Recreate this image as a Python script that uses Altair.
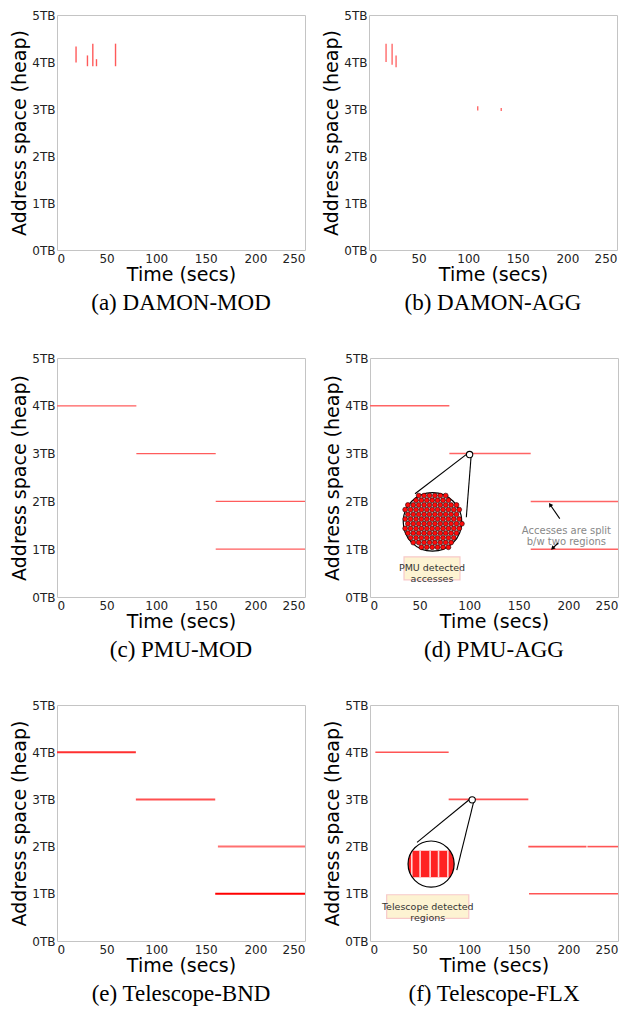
import math
import altair as alt
import pandas as pd

# ---------------- data ----------------
# (a) DAMON-MOD : short vertical access bursts
damon_mod_time = [19.2, 30.7, 36.1, 39.8, 59.0]
damon_mod_lo = [3.99, 3.91, 3.91, 3.91, 3.91]
damon_mod_hi = [4.33, 4.14, 4.39, 4.06, 4.39]

# (b) DAMON-AGG
damon_agg_time = [17.2, 23.3, 27.3, 109.6, 133.3]
damon_agg_lo = [4.00, 3.94, 3.89, 2.97, 2.96]
damon_agg_hi = [4.39, 4.39, 4.14, 3.06, 3.02]

# (c) PMU-MOD : horizontal segments (start, end, address TB)
pmu_mod_start = [0, 80, 160, 160]
pmu_mod_end = [80, 160, 250, 250]
pmu_mod_addr = [4, 3, 2, 1]

# (d) PMU-AGG
pmu_agg_start = [0, 80, 162, 162]
pmu_agg_end = [80, 162, 250, 250]
pmu_agg_addr = [4, 3, 2, 1]

# (e) Telescope-BND
tel_bnd_start = [0, 79.5, 162.2, 159.5]
tel_bnd_end = [79.5, 159.5, 250, 250]
tel_bnd_addr = [4, 3, 2, 1]
tel_bnd_color = ["#ff3030", "#ff5050", "#ff7070", "#ff0000"]

# (f) Telescope-FLX
tel_flx_start = [5.4, 79.3, 159.6, 219.2, 160.3]
tel_flx_end = [79.3, 159.6, 218.2, 250, 250]
tel_flx_addr = [4, 3, 2, 2, 1]

x_ticks = [0, 50, 100, 150, 200, 250]
y_ticks = [0, 1, 2, 3, 4, 5]

captions = ["(a) DAMON-MOD", "(b) DAMON-AGG", "(c) PMU-MOD",
            "(d) PMU-AGG", "(e) Telescope-BND", "(f) Telescope-FLX"]

# annotation anchors (d)
d_zoom_pt = [100.4, 2.98]
d_circle = [63.0, 1.57]
d_tangent_x = [45.4, 97.1]
d_tangent_y = [2.16, 1.67]
d_box = [34.3, 90.7, 0.36, 0.84]
d_note_pos = [198.0, 1.39]
d_arrow_from_x = [191.3, 189.7]
d_arrow_from_y = [1.64, 1.13]
d_arrow_to_x = [181.6, 184.0]
d_arrow_to_y = [1.93, 1.02]
d_arrow_angle = [326, 227]

# annotation anchors (f)
f_zoom_pt = [103.0, 2.99]
f_circle = [61.6, 1.63]
f_tangent_x = [47.4, 87.5]
f_tangent_y = [2.09, 1.50]
f_band = [1.35, 1.91]
f_separators = [42.1, 50.5, 60.6, 69.1, 78.5]
f_box = [16.8, 99.6, 0.48, 0.98]

FONT = "DejaVu Sans"


def X(field, **kw):
    return alt.X(f"{field}:Q", scale=alt.Scale(domain=[0, 250], nice=False, zero=False, padding=0),
                 axis=alt.Axis(values=x_ticks, title="Time (secs)"), **kw)


def Y(field, **kw):
    return alt.Y(f"{field}:Q", scale=alt.Scale(domain=[0, 5], nice=False, zero=False, padding=0),
                 axis=alt.Axis(values=y_ticks, labelExpr="datum.value + 'TB'",
                               title="Address space (heap)"), **kw)


def caption(text):
    return alt.TitleParams(text=text, orient="bottom", font="Liberation Serif",
                           fontSize=23, fontWeight="normal", color="black", offset=8)


def vertical_panel(times, lo, hi, color):
    df = pd.DataFrame({"t": times, "a": lo, "a2": hi})
    return alt.Chart(df).mark_rule(color=color, strokeWidth=1.4).encode(
        x=X("t"), y=Y("a"), y2="a2")


def horizontal_panel(start, end, addr, color, width=1.3, colors=None):
    df = pd.DataFrame({"t": start, "t2": end, "a": addr})
    if colors is not None:
        df["c"] = colors
        return alt.Chart(df).mark_rule(strokeWidth=width).encode(
            x=X("t"), x2="t2", y=Y("a"), color=alt.Color("c:N", scale=None))
    return alt.Chart(df).mark_rule(color=color, strokeWidth=width).encode(
        x=X("t"), x2="t2", y=Y("a"))


def point_layer(xs, ys, size, fill, stroke, sw, opacity=1):
    df = pd.DataFrame({"t": xs, "a": ys})
    return alt.Chart(df).mark_point(shape="circle", size=size, filled=False,
                                    fill=fill, stroke=stroke, strokeWidth=sw,
                                    opacity=opacity, fillOpacity=1).encode(x=X("t"), y=Y("a"))


def line_layer(x1, y1, x2, y2, color="black", width=1.1):
    df = pd.DataFrame({"t": x1, "a": y1, "t2": x2, "a2": y2})
    return alt.Chart(df).mark_rule(color=color, strokeWidth=width).encode(
        x=X("t"), y=Y("a"), x2="t2", y2="a2")


def box_layer(b):
    df = pd.DataFrame({"t": [b[0]], "t2": [b[1]], "a": [b[2]], "a2": [b[3]]})
    return alt.Chart(df).mark_rect(fill="#fdf3d2", stroke="#f7c9c9", strokeWidth=1.2).encode(
        x=X("t"), x2="t2", y=Y("a"), y2="a2")


def text_layer(x, y, text, size=9.5, color="#333"):
    df = pd.DataFrame({"t": [x], "a": [y], "s": [text]})
    return alt.Chart(df).mark_text(font=FONT, fontSize=size, color=color, lineBreak="\n",
                                   lineHeight=11, align="center", baseline="middle").encode(
        x=X("t"), y=Y("a"), text="s:N")


W = 248

# ---------------- row 1 ----------------
H1 = 235
pa = vertical_panel(damon_mod_time, damon_mod_lo, damon_mod_hi, "#ff5a5a").properties(
    width=W, height=H1, title=caption(captions[0]))
pb = vertical_panel(damon_agg_time, damon_agg_lo, damon_agg_hi, "#ff6a6a").properties(
    width=W, height=H1, title=caption(captions[1]))

# ---------------- row 2 ----------------
H2 = 239
pc = horizontal_panel(pmu_mod_start, pmu_mod_end, pmu_mod_addr, "#ff5c5c", 1.3).properties(
    width=W, height=H2, title=caption(captions[2]))

# zoom dots texture for (d) (decorative fill of the magnifier circle)
px_per_tb_d = H2 / 5.0
px_per_s_d = W / 250.0
dot_x, dot_y = [], []
step = 5.4
r_in = 30.0
row = 0
yy = -r_in
while yy <= r_in:
    shift = (step / 2) if row % 2 else 0
    xx = -r_in + shift
    while xx <= r_in:
        if xx * xx + yy * yy <= r_in * r_in:
            dot_x.append(d_circle[0] + xx / px_per_s_d)
            dot_y.append(d_circle[1] + yy / px_per_tb_d)
        xx += step
    yy += step * 0.87
    row += 1

r_d = 33
pd_layers = [
    horizontal_panel(pmu_agg_start, pmu_agg_end, pmu_agg_addr, "#ff6464", 1.5),
    line_layer([d_zoom_pt[0] - 1.5, d_zoom_pt[0] + 1.5], [d_zoom_pt[1] + 0.03, d_zoom_pt[1] - 0.04],
               d_tangent_x, d_tangent_y),
    point_layer([d_circle[0]], [d_circle[1]], math.pi * r_d ** 2, "white", "black", 1.2),
    point_layer(dot_x, dot_y, 24, "#ff0a0a", "#200000", 0.6),
    point_layer([d_zoom_pt[0]], [d_zoom_pt[1]], 40, "white", "black", 1.1),
    box_layer(d_box),
    text_layer((d_box[0] + d_box[1]) / 2, (d_box[2] + d_box[3]) / 2, "PMU detected\naccesses"),
    text_layer(d_note_pos[0], d_note_pos[1], "Accesses are split\nb/w two regions", 10, "#888"),
    line_layer(d_arrow_from_x, d_arrow_from_y, d_arrow_to_x, d_arrow_to_y, "black", 1.1),
    alt.Chart(pd.DataFrame({"t": d_arrow_to_x, "a": d_arrow_to_y, "ang": d_arrow_angle}))
    .mark_point(shape="triangle-up", filled=True, color="black", size=22, opacity=1)
    .encode(x=X("t"), y=Y("a"), angle=alt.Angle("ang:Q", scale=None)),
]
pd_ = alt.layer(*pd_layers).properties(width=W, height=H2, title=caption(captions[3]))

# ---------------- row 3 ----------------
H3 = 236
pe = horizontal_panel(tel_bnd_start, tel_bnd_end, tel_bnd_addr, None, 2.0,
                      colors=tel_bnd_color).properties(
    width=W, height=H3, title=caption(captions[4]))

r_f = 26
px_per_tb_f = H3 / 5.0
f_top = f_circle[1] + (r_f + 2) / px_per_tb_f
f_bot = f_circle[1] - (r_f + 2) / px_per_tb_f
f_left = f_circle[0] - (r_f + 2)
f_right = f_circle[0] + (r_f + 2)
white_rects = pd.DataFrame({"t": [f_left, f_left], "t2": [f_right, f_right],
                            "a": [f_band[1], f_bot], "a2": [f_top, f_band[0]]})
sep_df = pd.DataFrame({"t": f_separators, "a": [f_band[0]] * len(f_separators),
                       "a2": [f_band[1]] * len(f_separators)})
pf_layers = [
    horizontal_panel(tel_flx_start, tel_flx_end, tel_flx_addr, "#ff5555", 1.6),
    point_layer([f_circle[0]], [f_circle[1]], math.pi * r_f ** 2, "#ff2222", "#ff2222", 0),
    alt.Chart(white_rects).mark_rect(color="white").encode(x=X("t"), x2="t2", y=Y("a"), y2="a2"),
    alt.Chart(sep_df).mark_rule(color="#ffd6d6", strokeWidth=1.6).encode(x=X("t"), y=Y("a"), y2="a2"),
    point_layer([f_circle[0]], [f_circle[1]], math.pi * r_f ** 2, "transparent", "black", 1.2),
    line_layer([f_zoom_pt[0] - 1.5, f_zoom_pt[0] + 1.5], [f_zoom_pt[1] + 0.03, f_zoom_pt[1] - 0.04],
               f_tangent_x, f_tangent_y),
    point_layer([f_zoom_pt[0]], [f_zoom_pt[1]], 40, "white", "black", 1.1),
    box_layer(f_box),
    text_layer((f_box[0] + f_box[1]) / 2, (f_box[2] + f_box[3]) / 2, "Telescope detected\nregions"),
]
pf = alt.layer(*pf_layers).properties(width=W, height=H3, title=caption(captions[5]))

chart = alt.vconcat(
    alt.hconcat(pa, pb, spacing=16),
    alt.hconcat(pc, pd_, spacing=16),
    alt.hconcat(pe, pf, spacing=16),
    spacing=35,
).properties(
    padding={"left": 2, "top": 0, "right": 0, "bottom": 0}
).configure_view(
    stroke="#c4c4c4", strokeWidth=1
).configure_axis(
    domain=False, ticks=False, grid=False, labelOverlap=False,
    labelFont=FONT, labelFontSize=12, labelColor="#222",
    titleFont=FONT, titleFontSize=19, titleFontWeight="normal", titleColor="black",
).configure_axisX(
    labelPadding=3, titlePadding=1, labelFlush=4,
).configure_axisY(
    labelPadding=2, titlePadding=2, labelFlush=False,
)

chart.save("out.html", embed_options={"renderer": "svg", "actions": False})
